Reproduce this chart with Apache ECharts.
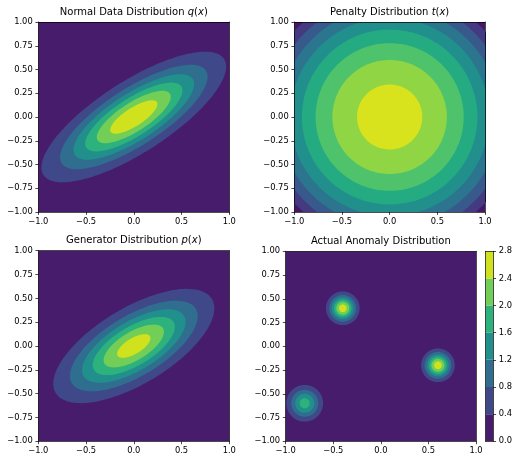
<!DOCTYPE html>
<html><head><meta charset="utf-8">
<script src="https://cdn.jsdelivr.net/npm/echarts@6/dist/echarts.min.js"></script>
<style>html,body{margin:0;padding:0;background:#fff}#c{width:515px;height:457px}</style>
</head><body><div id="c"></div>
<script>
// ---------- data ----------
const xTickValues = [-1.0, -0.5, 0.0, 0.5, 1.0];
const yTickValues = [-1.0, -0.75, -0.5, -0.25, 0.0, 0.25, 0.5, 0.75, 1.0];
const colorbarTicks = [0.0, 0.4, 0.8, 1.2, 1.6, 2.0, 2.4, 2.8];

const panelTitles = ['Normal Data Distribution', 'Penalty Distribution', 'Generator Distribution', 'Actual Anomaly Distribution'];
const panelTitleFn = ['q', 't', 'p', ''];

// q(x): correlated Gaussian (normal data)
const qMean = [0.0, 0.0];
const qCov = [[0.244, 0.134], [0.134, 0.1235]];
const qPeak = 1.36;
const qLevels = [0.0, 0.2, 0.4, 0.6, 0.8, 1.0, 1.2, 1.4];

// t(x): broad radial penalty bowl
const tCenter = [0.0, 0.0];
const tPeak = 2.048;
const tCurvature = 0.411;
const tLevels = [1.2, 1.3, 1.4, 1.5, 1.6, 1.7, 1.8, 1.9, 2.0, 2.1];

// p(x): generator Gaussian
const pMean = [0.0, 0.0];
const pCov = [[0.19, 0.089], [0.089, 0.096]];
const pPeak = 1.3;
const pLevels = [0.0, 0.2, 0.4, 0.6, 0.8, 1.0, 1.2, 1.4];

// actual anomaly: three isotropic bumps
const anomalyCenters = [[-0.4, 0.4], [0.6, -0.2], [-0.8, -0.6]];
const anomalyPeaks = [2.65, 2.65, 1.79];
const anomalySigmas = [0.091, 0.091, 0.1115];
const anomalyLevels = colorbarTicks;

// ---------- helpers ----------
const VIRIDIS16 = ['#440154','#481a6c','#472f7d','#414487','#39568c','#31688e','#2a788e','#23888e',
                   '#1f988b','#22a884','#35b779','#54c568','#7ad151','#a5db36','#d2e21b','#fde725'];
function hexToRgb(h){return [parseInt(h.slice(1,3),16),parseInt(h.slice(3,5),16),parseInt(h.slice(5,7),16)];}
function viridis(t){
  t = Math.max(0, Math.min(1, t));
  const n = VIRIDIS16.length - 1, f = t * n, i = Math.min(n - 1, Math.floor(f)), u = f - i;
  const a = hexToRgb(VIRIDIS16[i]), b = hexToRgb(VIRIDIS16[i + 1]);
  return 'rgb(' + a.map((v, j) => Math.round(v + (b[j] - v) * u)).join(',') + ')';
}
function bandColor(k, levels){ return viridis((k + 0.5) / (levels.length - 1)); }
const N = 160;
function ellipsePts(mean, cov, d){
  const a = cov[0][0], c = cov[0][1], b = cov[1][1];
  const l11 = Math.sqrt(a), l21 = c / l11, l22 = Math.sqrt(b - l21 * l21);
  const pts = [];
  for (let i = 0; i < N; i++){
    const th = 2 * Math.PI * i / N, u = Math.cos(th) * d, v = Math.sin(th) * d;
    pts.push([mean[0] + l11 * u, mean[1] + l21 * u + l22 * v]);
  }
  return pts;
}
function circlePts(c, r){ return ellipsePts(c, [[1,0],[0,1]], r); }
const box = [[xTickValues[0], yTickValues[0]], [xTickValues[4], yTickValues[0]],
             [xTickValues[4], yTickValues[8]], [xTickValues[0], yTickValues[8]]];

function gaussianShapes(mean, cov, peak, levels){
  const s = [{color: bandColor(0, levels), pts: box}];
  for (let k = 1; k < levels.length - 1; k++){
    if (levels[k] >= peak) break;
    s.push({color: bandColor(k, levels), pts: ellipsePts(mean, cov, Math.sqrt(2 * Math.log(peak / levels[k])))});
  }
  return s;
}
function bowlShapes(center, peak, curv, levels){
  const s = [{color: bandColor(0, levels), pts: box}];
  for (let k = 1; k < levels.length - 1; k++){
    if (levels[k] >= peak) break;
    s.push({color: bandColor(k, levels), pts: circlePts(center, Math.sqrt((peak - levels[k]) / curv))});
  }
  return s;
}
function bumpShapes(centers, peaks, sigmas, levels){
  const s = [{color: bandColor(0, levels), pts: box}];
  centers.forEach((c, j) => {
    for (let k = 1; k < levels.length - 1; k++){
      if (levels[k] >= peaks[j]) break;
      s.push({color: bandColor(k, levels), pts: circlePts(c, sigmas[j] * Math.sqrt(2 * Math.log(peaks[j] / levels[k])))});
    }
  });
  return s;
}
const panelShapes = [
  gaussianShapes(qMean, qCov, qPeak, qLevels),
  bowlShapes(tCenter, tPeak, tCurvature, tLevels),
  gaussianShapes(pMean, pCov, pPeak, pLevels),
  bumpShapes(anomalyCenters, anomalyPeaks, anomalySigmas, anomalyLevels)
];

// ---------- layout ----------
const panels = [
  {left: 38.3, top: 22, width: 191, height: 190},
  {left: 294.3, top: 22, width: 190.7, height: 190},
  {left: 38.3, top: 250.7, width: 191, height: 190.6},
  {left: 285.7, top: 251.3, width: 190.3, height: 190}
];
const cbar = {left: 485.7, top: 251.3, width: 8.6, height: 190};
const FONT = 'DejaVu Sans';
const TICKLEN = 2.9, LW = 0.7;
function fmt(v, d){ return (v < -1e-9 ? '\u2212' : '') + Math.abs(v).toFixed(d); }

const grids = [], xAxes = [], yAxes = [], series = [], graphics = [];
const lineStyle = {color: '#000', width: LW};
function mainAxis(kind, gi, ticks, dec){
  return {type: 'value', gridIndex: gi, min: ticks[0], max: ticks[ticks.length - 1],
    interval: ticks[1] - ticks[0], position: kind === 'x' ? 'bottom' : 'left', z: 10,
    axisLine: {show: true, onZero: false, lineStyle},
    axisTick: {show: true, inside: false, length: TICKLEN, lineStyle},
    axisLabel: {show: true, fontFamily: FONT, fontSize: 8.33, color: '#000', margin: 5.6,
      formatter: v => fmt(v, dec)},
    splitLine: {show: false}};
}
function edgeAxis(kind, gi, pos){
  return {type: 'value', gridIndex: gi, min: -1, max: 1, position: pos, z: 10,
    axisLine: {show: true, onZero: false, lineStyle}, axisTick: {show: false},
    axisLabel: {show: false}, splitLine: {show: false}};
}
panels.forEach((p, i) => {
  grids.push(Object.assign({containLabel: false}, p));
  xAxes.push(mainAxis('x', i, xTickValues, 1), edgeAxis('x', i, 'top'));
  yAxes.push(mainAxis('y', i, yTickValues, 2), edgeAxis('y', i, 'right'));
  const shapes = panelShapes[i];
  series.push({type: 'custom', xAxisIndex: 2 * i, yAxisIndex: 2 * i, data: [[0, 0]], clip: true,
    silent: true, animation: false,
    renderItem: (params, api) => ({type: 'group', children: shapes.map(s => ({
      type: 'polygon', shape: {points: s.pts.map(pt => api.coord(pt))}, style: {fill: s.color}}))})});
  const fn = panelTitleFn[i];
  const txt = fn ? '{n|' + panelTitles[i] + ' }{i|' + fn + '}{n|(}{i|x}{n|)}' : '{n|' + panelTitles[i] + '}';
  graphics.push({type: 'text', x: p.left + p.width / 2, y: p.top - 5, silent: true,
    style: {text: txt, textAlign: 'center', textVerticalAlign: 'bottom',
      rich: {n: {fontFamily: FONT, fontSize: 10, fill: '#000'},
             i: {fontFamily: FONT, fontSize: 10, fontStyle: 'italic', fill: '#000'}}}});
});
// colorbar
grids.push(Object.assign({containLabel: false}, cbar));
xAxes.push({type: 'value', gridIndex: 4, min: 0, max: 1, position: 'bottom', z: 10,
  axisLine: {show: true, onZero: false, lineStyle}, axisTick: {show: false}, axisLabel: {show: false}, splitLine: {show: false}},
  {type: 'value', gridIndex: 4, min: 0, max: 1, position: 'top', z: 10,
  axisLine: {show: true, onZero: false, lineStyle}, axisTick: {show: false}, axisLabel: {show: false}, splitLine: {show: false}});
yAxes.push({type: 'value', gridIndex: 4, min: colorbarTicks[0], max: colorbarTicks[colorbarTicks.length - 1], position: 'left', z: 10,
  axisLine: {show: true, onZero: false, lineStyle}, axisTick: {show: false}, axisLabel: {show: false}, splitLine: {show: false}},
  {type: 'value', gridIndex: 4, min: colorbarTicks[0], max: colorbarTicks[colorbarTicks.length - 1],
   interval: colorbarTicks[1] - colorbarTicks[0], position: 'right', z: 10,
   axisLine: {show: true, onZero: false, lineStyle},
   axisTick: {show: true, inside: false, length: TICKLEN, lineStyle},
   axisLabel: {show: true, fontFamily: FONT, fontSize: 8.33, color: '#000', margin: 5.6, formatter: v => v.toFixed(1)},
   splitLine: {show: false}});
series.push({type: 'custom', xAxisIndex: 8, yAxisIndex: 8, silent: true, animation: false, clip: true,
  data: colorbarTicks.slice(0, -1).map((l, k) => [0, l]),
  renderItem: (params, api) => {
    const k = params.dataIndex;
    const a = api.coord([0, colorbarTicks[k + 1]]), b = api.coord([1, colorbarTicks[k]]);
    return {type: 'rect', shape: {x: a[0], y: a[1], width: b[0] - a[0], height: b[1] - a[1]},
      style: {fill: bandColor(k, anomalyLevels)}};
  }});

const chart = echarts.init(document.getElementById('c'), null, {renderer: 'canvas'});
chart.setOption({animation: false, backgroundColor: '#fff', grid: grids, xAxis: xAxes, yAxis: yAxes,
  series, graphic: graphics});
</script></body></html>
